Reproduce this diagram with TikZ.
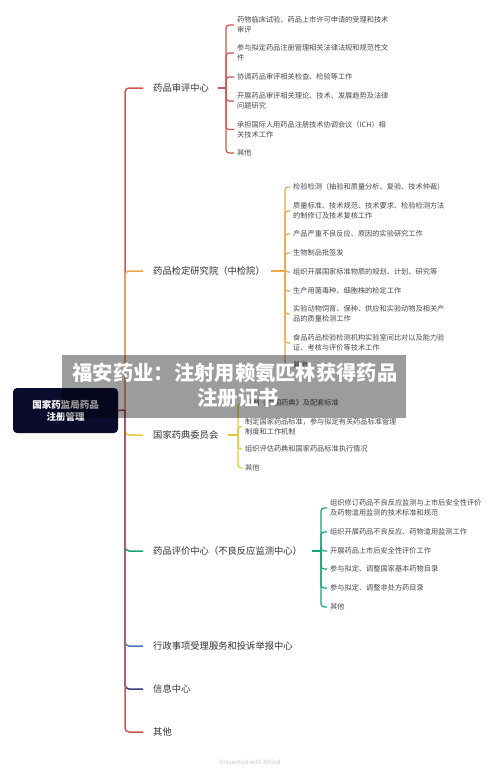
\documentclass[tikz,border=0pt]{standalone}
\usepackage{fontspec}
\setmainfont{Noto Sans CJK SC}
\definecolor{cred}{HTML}{CD5650}
\definecolor{corange}{HTML}{EEA64A}
\definecolor{cyellow}{HTML}{E0CC3A}
\definecolor{cgreen}{HTML}{1AA37A}
\definecolor{cblue}{HTML}{4F74B8}
\definecolor{cnavy}{HTML}{3A3D80}
\definecolor{rootfill}{HTML}{0B0B2E}
\definecolor{txt}{HTML}{333333}
\definecolor{itm}{HTML}{4A4A4A}
\definecolor{bannergrey}{HTML}{9C9C9C}
\definecolor{footgrey}{HTML}{C8C8C8}
\begin{document}
\begin{tikzpicture}[x=1pt,y=-1pt,
  mainnode/.style={anchor=west, inner sep=0pt, text=txt, font=\fontsize{9.3}{11}\selectfont},
  itemnode/.style={anchor=west, inner sep=0pt, align=left, text=itm, font=\fontsize{7.2}{9.6}\selectfont},
  trunk/.style={line width=1.5pt, rounded corners=4pt},
  sub/.style={line width=1.2pt, rounded corners=3pt},
  rootbox/.style={fill=rootfill, rounded corners=4pt, text=white, align=center, inner sep=0pt,
    minimum width=105pt, minimum height=45pt, font=\fontsize{9.5}{12}\selectfont\bfseries},
  bannertxt/.style={text=white, inner sep=0pt, font=\fontsize{20.3}{24}\selectfont\bfseries}]
\useasboundingbox (0,0) rectangle (500,774);
\fill[white] (0,0) rectangle (500,774);

% root
\node[rootbox] (root) at (65.5,410.5) {国家药监局药品\\注册管理};
\coordinate (J) at (125,410);

% main branches
\node[mainnode] (b1) at (153,88) {药品审评中心};
\node[mainnode] (b2) at (153,271) {药品检定研究院（中检院）};
\node[mainnode] (b3) at (153,435) {国家药典委员会};
\node[mainnode] (b4) at (153,551) {药品评价中心（不良反应监测中心）};
\node[mainnode] (b5) at (153,646) {行政事项受理服务和投诉举报中心};
\node[mainnode] (b6) at (153,689) {信息中心};
\node[mainnode] (b7) at (153,732) {其他};

\draw[trunk, cred] (J) |- ([xshift=-10pt]b1.west);
\draw[trunk, corange] (J) |- ([xshift=-10pt]b2.west);
\draw[trunk, cyellow] (J) |- ([xshift=-10pt]b3.west);
\draw[trunk, cgreen] (J) |- ([xshift=-10pt]b4.west);
\draw[trunk, cblue] (J) |- ([xshift=-10pt]b5.west);
\draw[trunk, cnavy] (J) |- ([xshift=-10pt]b6.west);
\draw[trunk, cred] (J) |- ([xshift=-10pt]b7.west);
\draw[line width=1.5pt, cred!80!black] (root.east) -- (J);

% branch 1 items
\coordinate (K1) at (226,88);
\node[itemnode] (a1) at (237,25) {药物临床试验、药品上市许可申请的受理和技术\\审评};
\node[itemnode] (a2) at (237,53) {参与拟定药品注册管理相关法律法规和规范性文\\件};
\node[itemnode] (a3) at (237,77) {协调药品审评相关检查、检验等工作};
\node[itemnode] (a4) at (237,101) {开展药品审评相关理论、技术、发展趋势及法律\\问题研究};
\node[itemnode] (a5) at (237,129.5) {承担国际人用药品注册技术协调会议（ICH）相\\关技术工作};
\node[itemnode] (a6) at (237,153) {其他};
\draw[sub, cred] ([xshift=9pt]b1.east) -- (K1);
\foreach \n in {a1,a2,a3,a4,a5,a6}
  \draw[sub, cred] (K1) |- ([xshift=-3pt]\n.west);

% branch 2 items
\coordinate (K2) at (285,271);
\node[itemnode] (c1) at (293,187) {检验检测（抽验和质量分析、复验、技术仲裁）};
\node[itemnode] (c2) at (293,211) {质量标准、技术规范、技术要求、检验检测方法\\的制修订及技术复核工作};
\node[itemnode] (c3) at (293,234) {产品严重不良反应、原因的实验研究工作};
\node[itemnode] (c4) at (293,253) {生物制品批签发};
\node[itemnode] (c5) at (293,272) {组织开展国家标准物质的规划、计划、研究等};
\node[itemnode] (c6) at (293,291) {生产用菌毒种、细胞株的检定工作};
\node[itemnode] (c7) at (293,314) {实验动物饲育、保种、供应和实验动物及相关产\\品的质量检测工作};
\node[itemnode] (c8) at (293,343) {食品药品检验检测机构实验室间比对以及能力验\\证、考核与评价等技术工作};
\node[itemnode] (c9) at (293,365) {其他};
\draw[sub, corange] ([xshift=6pt]b2.east) -- (K2);
\foreach \n in {c1,c2,c3,c4,c5,c6,c7,c8,c9}
  \draw[sub, corange] (K2) |- ([xshift=-3pt]\n.west);

% branch 3 items
\coordinate (K3) at (238,435);
\node[itemnode] (d1) at (245,403) {编制《中国药典》及配套标准};
\node[itemnode] (d2) at (245,426.5) {制定国家药品标准，参与拟定有关药品标准管理\\制度和工作机制};
\node[itemnode] (d3) at (245,449) {组织评估药典和国家药品标准执行情况};
\node[itemnode] (d4) at (245,468) {其他};
\draw[sub, cyellow] ([xshift=9pt]b3.east) -- (K3);
\foreach \n in {d1,d2,d3,d4}
  \draw[sub, cyellow] (K3) |- ([xshift=-3pt]\n.west);

% branch 4 items
\coordinate (K4) at (321,551);
\node[itemnode] (e1) at (330,508) {组织修订药品不良反应监测与上市后安全性评价\\及药物滥用监测的技术标准和规范};
\node[itemnode] (e2) at (330,532) {组织开展药品不良反应、药物滥用监测工作};
\node[itemnode] (e3) at (330,551) {开展药品上市后安全性评价工作};
\node[itemnode] (e4) at (330,569) {参与拟定、调整国家基本药物目录};
\node[itemnode] (e5) at (330,588) {参与拟定、调整非处方药目录};
\node[itemnode] (e6) at (330,607) {其他};
\draw[sub, cgreen] ([xshift=10pt]b4.east) -- (K4);
\foreach \n in {e1,e2,e3,e4,e5,e6}
  \draw[sub, cgreen] (K4) |- ([xshift=-3pt]\n.west);

% banner overlay
\fill[bannergrey, blend mode=multiply] (62,355) rectangle (406,418);
\node[bannertxt] (t1) at (235,373) {福安药业：注射用赖氨匹林获得药品};
\node[bannertxt] (t2) at (238,398) {注册证书};

% footer
\node[text=footgrey, inner sep=0pt, font=\fontsize{6}{7}\selectfont] (foot) at (250,762) {Presented with XMind};
\end{tikzpicture}
\end{document}
